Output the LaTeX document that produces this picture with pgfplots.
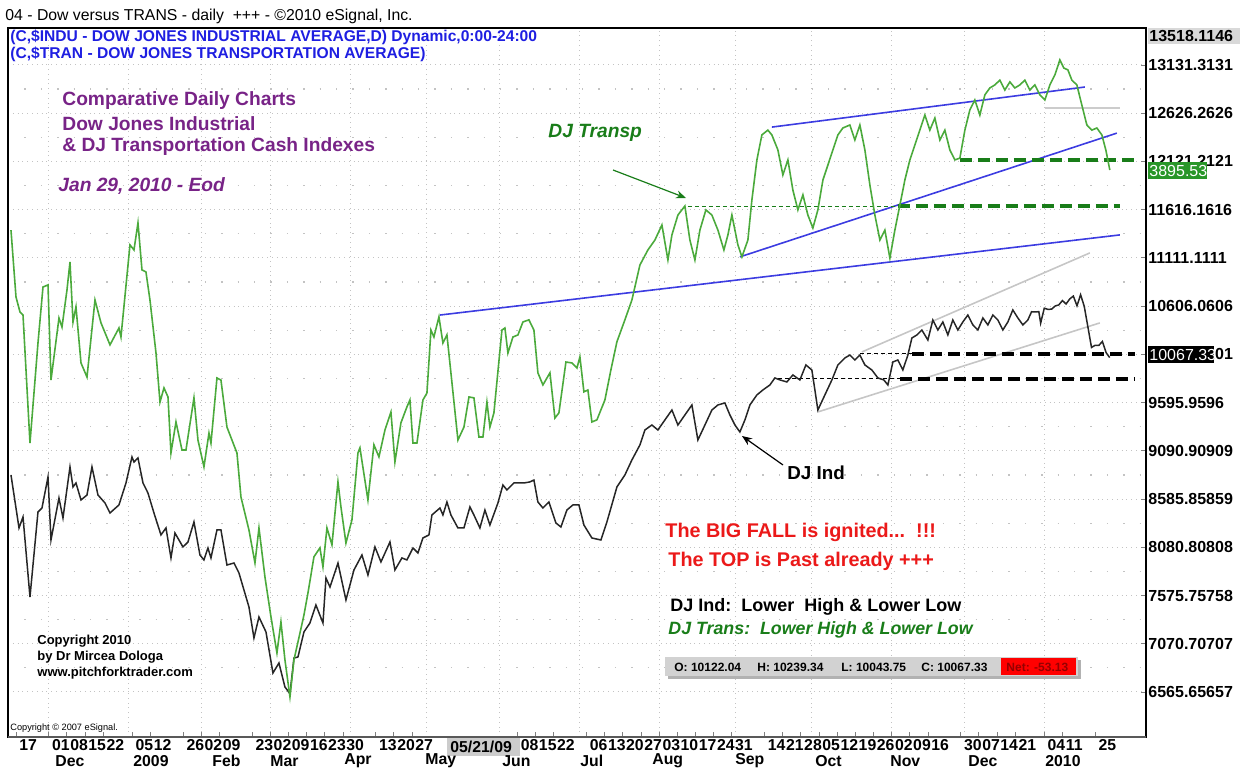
\documentclass[border=0pt]{standalone}
\usepackage{fontspec}
\setmainfont{Liberation Sans}
\usepackage{pgfplots}
\pgfplotsset{compat=1.18}
\usetikzlibrary{arrows.meta}
\definecolor{trgreen}{RGB}{75,170,60}
\definecolor{dkgreen}{RGB}{25,125,25}
\definecolor{boxgreen}{RGB}{40,150,40}
\definecolor{hdrblue}{RGB}{30,30,225}
\definecolor{tblue}{RGB}{60,60,225}
\definecolor{purp}{RGB}{120,35,135}
\definecolor{redtxt}{RGB}{235,25,25}
\definecolor{gridc}{RGB}{195,195,195}
\definecolor{netred}{RGB}{150,0,0}
\newcommand\fs[1]{\fontsize{#1}{#1}\selectfont}

\begin{document}
\begin{tikzpicture}
\path[use as bounding box] (0,0) rectangle (620pt,383.5pt);
% ---------------- primary axis: DJ Industrial ----------------
\begin{axis}[
  at={(4pt,15pt)}, anchor=south west,
  width=569pt, height=354.5pt, scale only axis,
  xmin=-2.2, xmax=311, ymin=6094, ymax=13518.11,
  scaled y ticks=false, scaled x ticks=false,
  axis line style={black, line width=0.6pt},
  ytick={6565.65657,7070.70707,7575.75758,8080.80808,8585.85859,9090.90909,9595.9596,10101.0101,10606.0606,11111.1111,11616.1616,12121.2121,12626.2626,13131.3131},
  yticklabels={6565.65657,7070.70707,7575.75758,8080.80808,8585.85859,9090.90909,9595.9596,10101.0101,10606.0606,11111.1111,11616.1616,12121.2121,12626.2626,13131.3131},
  ytick pos=right, yticklabel pos=right,
  yticklabel style={anchor=west, inner sep=0pt, xshift=1pt, font=\fs{8}\bfseries},
  xtick={0,9,14,19,24,32,37,46,51,56,65,70,75,80,85,90,99,104,109,138,143,148,157,162,167,172,177,182,187,192,197,206,211,216,221,226,231,236,241,246,251,260,265,270,275,283,288,297},
  xticklabels={17,01,08,15,22,05,12,26,02,09,23,02,09,16,23,30,13,20,27,08,15,22,06,13,20,27,03,10,17,24,31,14,21,28,05,12,19,26,02,09,16,30,07,14,21,04,11,25},
  xtick pos=bottom,
  xticklabel style={anchor=north west, inner sep=0pt, yshift=-0.9pt, xshift=1.5pt, font=\fs{7.9}\bfseries},
  tick align=inside, major tick length=2.5pt,
  tick style={gray, line width=0.4pt},
  ymajorgrids=true,
  major grid style={gridc, dotted, line width=0.5pt},
  minor y tick num=1, yminorgrids=true,
  minor grid style={gridc, dash pattern=on 0.7pt off 7.5pt, line width=0.6pt},
  minor tick length=0pt,
  extra x ticks={9,31,51,70,92,113,133,155,177,198,219,241,261,283},
  extra x tick labels={},
  extra x tick style={grid=major, major tick length=0pt},
  clip=true,
]
% grey channel lines around DJ Ind
\addplot[gray!45, line width=0.8pt] coordinates {(232.80,10126) (295.54,11163)};
\addplot[gray!45, line width=0.8pt] coordinates {(220.69,9498) (298.29,10430)};
\addplot[gray!40, line width=0.8pt] coordinates {(283.16,12681) (303.80,12681)};
% black dashed support lines
\addplot[black, line width=0.5pt, dash pattern=on 2pt off 1.5pt] coordinates {(232.25,10105) (246.56,10105)};
\addplot[black, line width=1.6pt, dash pattern=on 6pt off 3pt] coordinates {(246.56,10105) (307.92,10105)};
\addplot[black, line width=0.5pt, dash pattern=on 2pt off 1.5pt] coordinates {(209.69,9843) (243.26,9843)};
\addplot[black, line width=1.6pt, dash pattern=on 6pt off 3pt] coordinates {(243.26,9843) (307.92,9843)};
% DJ Industrial daily close
\addplot[black!85, line width=0.75pt] coordinates {
(-1.38,8838)(0.83,8283)(1.93,8398)(3.85,7560)(6.05,8450)(7.15,8492)(8.81,8817)(9.63,8157)(11.83,8597)(12.93,8387)(14.86,8922)(15.69,8712)(16.51,8754)(17.89,8576)(19.54,8628)(20.91,8922)(22.56,8628)(24.49,8545)(25.87,8440)(28.34,8524)(30.27,8754)(31.92,9026)(32.47,8974)(33.57,9016)(34.95,8754)(36.32,8649)(37.97,8440)(39.90,8210)(41.28,8283)(42.65,7969)(43.75,8230)(45.95,8084)(47.33,8136)(48.98,8346)(50.63,8000)(51.73,7948)(52.83,8073)(53.66,7969)(55.31,8262)(56.41,8262)(58.06,7895)(59.99,7916)(61.36,7812)(64.12,7455)(65.49,7131)(66.87,7351)(68.80,7194)(70.72,6764)(72.37,6869)(74.02,6618)(75.40,6547)(76.50,6921)(77.60,6932)(79.25,7194)(80.90,7288)(82.55,7476)(84.48,7288)(85.31,7759)(86.41,7665)(88.61,7916)(90.81,7529)(93.01,7843)(95.21,8000)(96.86,7791)(98.79,8084)(100.44,7927)(102.92,8136)(104.29,7843)(106.22,7969)(107.59,7948)(109.25,8073)(110.62,8021)(112.00,8178)(113.65,8210)(114.47,8419)(116.68,8492)(117.50,8419)(118.60,8555)(119.70,8419)(121.63,8283)(123.28,8283)(124.93,8503)(126.03,8419)(127.68,8283)(129.06,8471)(130.43,8314)(132.64,8545)(134.01,8733)(135.11,8681)(137.04,8754)(139.79,8754)(141.44,8765)(142.54,8785)(143.64,8555)(145.02,8492)(146.67,8555)(148.60,8335)(149.97,8293)(151.62,8471)(153.27,8524)(154.93,8524)(156.30,8314)(158.50,8178)(160.98,8157)(162.63,8346)(165.38,8712)(167.58,8838)(169.51,8995)(171.71,9152)(173.09,9309)(175.01,9361)(176.66,9309)(178.59,9414)(180.52,9518)(182.17,9361)(184.09,9466)(186.02,9571)(187.67,9204)(189.60,9361)(191.52,9518)(193.18,9571)(195.10,9592)(196.48,9466)(197.86,9361)(199.23,9288)(200.61,9414)(201.98,9571)(203.91,9676)(205.56,9728)(207.48,9780)(208.86,9854)(210.24,9833)(212.16,9812)(213.81,9885)(215.74,9833)(217.39,9990)(219.04,9937)(219.87,9728)(220.69,9518)(222.62,9676)(224.55,9833)(226.20,9990)(228.12,10063)(229.50,10094)(230.87,10042)(232.25,10094)(233.63,9990)(235.55,9937)(237.20,9854)(238.85,9833)(239.96,9780)(241.33,10021)(242.71,10042)(244.08,9937)(245.46,10094)(246.56,10272)(247.94,10304)(249.31,10356)(250.96,10251)(252.34,10461)(253.72,10356)(255.09,10440)(256.47,10304)(257.84,10461)(259.22,10356)(260.59,10440)(261.97,10513)(263.35,10409)(264.72,10356)(266.10,10482)(267.47,10409)(268.85,10513)(270.23,10461)(271.60,10356)(272.98,10440)(274.35,10566)(275.73,10482)(277.11,10409)(278.48,10461)(279.5,10547)(280.5,10545)(281.5,10548)(282,10428)(283,10584)(284,10572)(285,10574)(286,10607)(287,10619)(288,10664)(289,10628)(290,10681)(291,10711)(292,10610)(293,10725)(294,10604)(295,10389)(296,10173)(297,10196)(298,10194)(299,10236)(300,10120)(301,10067.33)
};
\end{axis}
% ---------------- secondary axis: DJ Transportation ----------------
\begin{axis}[
  at={(4pt,15pt)}, anchor=south west,
  width=569pt, height=354.5pt, scale only axis,
  xmin=-2.2, xmax=311, ymin=2013, ymax=4367,
  hide axis, clip=true,
]
\addplot[tblue, line width=0.8pt] coordinates {(116.68,3414) (303.80,3680)};
\addplot[tblue, line width=0.8pt] coordinates {(199.23,3607) (302.97,4018)};
\addplot[tblue, line width=0.8pt] coordinates {(208.03,4038) (294.17,4171)};
\addplot[dkgreen, line width=0.5pt, dash pattern=on 2pt off 1.5pt] coordinates {(184.92,3776) (242.71,3776)};
\addplot[dkgreen, line width=1.6pt, dash pattern=on 6pt off 3pt] coordinates {(242.71,3776) (303.80,3776)};
\addplot[dkgreen, line width=1.6pt, dash pattern=on 6pt off 3pt] coordinates {(259.77,3929) (307.92,3929)};
\addplot[trgreen, line width=0.8pt] coordinates {
(-1.38,3696)(0,3474)(1.10,3424)(1.93,3414)(3.85,2989)(6.05,3321)(7.43,3507)(8.81,3514)(9.63,3198)(11.83,3404)(12.66,3374)(14.03,3497)(14.86,3590)(15.69,3391)(16.51,3441)(17.89,3255)(19.54,3208)(21.74,3464)(23.39,3388)(25.87,3315)(28.34,3371)(28.89,3341)(31.37,3647)(32.47,3630)(33.57,3720)(34.67,3564)(35.77,3557)(36.87,3464)(38.53,3288)(39.63,3125)(40.73,3172)(41.83,3142)(42.65,2956)(44.03,3059)(45.68,2966)(46.78,2966)(48.98,3139)(50.08,2999)(51.73,2910)(53.11,3022)(53.66,2989)(55.31,3205)(56.41,3198)(58.06,3042)(60.81,2956)(61.91,2810)(64.12,2700)(65.77,2591)(66.87,2707)(68.52,2544)(70.17,2412)(71.82,2292)(72.92,2395)(74.02,2269)(75.40,2146)(76.50,2269)(78.15,2358)(79.25,2418)(80.35,2491)(82.00,2611)(83.65,2641)(84.48,2578)(85.58,2707)(86.96,2651)(88.61,2860)(89.43,2777)(90.81,2657)(92.46,2734)(94.11,2956)(94.66,2973)(96.86,2800)(98.51,2983)(99.89,2943)(101.54,3032)(103.19,3092)(104.29,2926)(105.94,3056)(107.59,3109)(108.42,3132)(109.25,2989)(110.35,2989)(112.00,3132)(113.10,3155)(114.20,3364)(115.02,3341)(116.40,3408)(117.50,3321)(118.60,3348)(119.70,3222)(121.63,2999)(123.28,3042)(124.66,3142)(126.03,3139)(127.41,3009)(128.51,3009)(129.61,3125)(130.43,3042)(131.53,3089)(133.74,3364)(134.56,3371)(135.39,3288)(136.76,3341)(138.14,3348)(139.52,3391)(141.17,3398)(142.54,3364)(143.64,3222)(145.02,3182)(146.95,3222)(148.32,3072)(149.42,3089)(151.35,3258)(153.00,3255)(154.38,3238)(155.20,3275)(156.30,3159)(157.40,3165)(158.50,3059)(159.88,3066)(162.08,3132)(163.73,3232)(165.38,3325)(167.58,3398)(169.51,3464)(171.71,3580)(173.91,3630)(175.84,3663)(177.77,3713)(179.42,3597)(180.52,3680)(182.17,3746)(184.09,3776)(185.47,3663)(186.85,3597)(188.22,3696)(189.87,3763)(191.52,3746)(193.18,3696)(194.83,3630)(195.93,3680)(197.03,3746)(198.68,3647)(199.78,3607)(201.43,3663)(202.53,3796)(203.91,3929)(205.28,4012)(206.93,4028)(208.03,4012)(209.69,3962)(211.06,3879)(212.44,3929)(213.81,3829)(215.19,3763)(216.57,3813)(217.94,3746)(219.32,3703)(220.69,3763)(222.07,3862)(223.45,3912)(224.82,3962)(226.20,4012)(227.57,4035)(229.50,4045)(230.87,3995)(232.25,4045)(233.63,3962)(235.00,3846)(236.38,3746)(237.76,3663)(239.13,3696)(240.51,3603)(241.88,3696)(243.26,3779)(244.63,3862)(246.01,3929)(247.39,3979)(248.76,4028)(250.14,4078)(251.51,4028)(252.89,4068)(254.27,3995)(255.64,4028)(257.02,3962)(258.39,3929)(259.77,3935)(261.15,4028)(262.52,4095)(263.90,4128)(265.27,4078)(266.65,4145)(268.03,4168)(269.40,4178)(270.78,4194)(272.15,4161)(273.53,4188)(274.90,4168)(276.28,4178)(277.66,4194)(279.03,4161)(280.41,4178)(281.79,4145)(283.16,4128)(284.54,4178)(285.91,4211)(287.29,4261)(288.39,4234)(289.49,4228)(290.59,4194)(291.97,4178)(293.34,4111)(294.72,4045)(296.10,4028)(297.47,4035)(298.85,4012)(299.94,3962)(301.04,3895.53)
};
\end{axis}
% ---------------- overlays in pixel coordinates ----------------
\begin{scope}[x=0.5pt, y=-0.5pt, shift={(0pt,383.5pt)}]
\draw[gray!70!black, line width=1.3pt] (8,737) -- (1146,737);
% header
\node[anchor=west, inner sep=0pt, font=\fs{7.9}] at (5,16) {04 - Dow versus TRANS - daily\ \ +++ - ©2010 eSignal, Inc.};
\node[anchor=west, inner sep=0pt, font=\fs{7.8}\bfseries, text=hdrblue] at (10,37) {(C,\$INDU - DOW JONES INDUSTRIAL AVERAGE,D) Dynamic,0:00-24:00};
\node[anchor=west, inner sep=0pt, font=\fs{7.8}\bfseries, text=hdrblue] at (10,54) {(C,\$TRAN - DOW JONES TRANSPORTATION AVERAGE)};
% purple titles
\node[anchor=west, inner sep=0pt, font=\fs{9.6}\bfseries, text=purp] at (62,101) {Comparative Daily Charts};
\node[anchor=west, inner sep=0pt, font=\fs{9.6}\bfseries, text=purp] at (62,124) {Dow Jones Industrial};
\node[anchor=west, inner sep=0pt, font=\fs{9.6}\bfseries, text=purp] at (62,147) {\& DJ Transportation Cash Indexes};
\node[anchor=west, inner sep=0pt, font=\fs{9.6}\bfseries\itshape, text=purp] at (58,186) {Jan 29, 2010 - Eod};
% series labels and arrows
\node[anchor=west, inner sep=0pt, font=\fs{9.6}\bfseries\itshape, text=dkgreen] at (548,133) {DJ Transp};
\draw[dkgreen, line width=0.6pt, -{Stealth[length=5pt,width=4pt]}] (613,170) -- (686,198);
\node[anchor=west, inner sep=0pt, font=\fs{9.4}\bfseries] at (787,473) {DJ Ind};
\draw[black, line width=0.6pt, -{Stealth[length=5pt,width=4pt]}] (783,465) -- (742,436);
% red comments
\node[anchor=west, inner sep=0pt, font=\fs{9.9}\bfseries, text=redtxt] at (665,532) {The BIG FALL is ignited...\ \ !!!};
\node[anchor=west, inner sep=0pt, font=\fs{9.9}\bfseries, text=redtxt] at (668,561) {The TOP is Past already +++};
\node[anchor=west, inner sep=0pt, font=\fs{9}\bfseries] at (670,607) {DJ Ind:\ \ Lower\ \ High \& Lower Low};
\node[anchor=west, inner sep=0pt, font=\fs{8.9}\bfseries\itshape, text=dkgreen] at (668,630) {DJ Trans:\ \ Lower High \& Lower Low};
% OHLC box
\fill[gray!60] (668,660) rectangle (1081,679);
\fill[gray!35] (665,657) rectangle (1078,676);
\fill[red] (1001,658) rectangle (1076,675);
\node[anchor=west, inner sep=0pt, font=\fs{6}\bfseries] at (674,667) {O: 10122.04};
\node[anchor=west, inner sep=0pt, font=\fs{6}\bfseries] at (757,667) {H: 10239.34};
\node[anchor=west, inner sep=0pt, font=\fs{6}\bfseries] at (841,667) {L: 10043.75};
\node[anchor=west, inner sep=0pt, font=\fs{6}\bfseries] at (921,667) {C: 10067.33};
\node[anchor=west, inner sep=0pt, font=\fs{6}\bfseries, text=netred] at (1006,667) {Net: -53.13};
% copyright
\node[anchor=west, inner sep=0pt, font=\fs{6.5}\bfseries] at (37,641) {Copyright 2010};
\node[anchor=west, inner sep=0pt, font=\fs{6.5}\bfseries] at (37,657) {by Dr Mircea Dologa};
\node[anchor=west, inner sep=0pt, font=\fs{6.5}\bfseries] at (37,673) {www.pitchforktrader.com};
\node[anchor=west, inner sep=0pt, font=\fs{4.6}] at (10,728) {Copyright © 2007 eSignal.};
% right value boxes
\fill[gray!30] (1148,28) rectangle (1240,44);
\node[anchor=west, inner sep=0pt, font=\fs{8}\bfseries] at (1149,36) {13518.1146};
\fill[boxgreen] (1148,162) rectangle (1207,179);
\node[anchor=west, inner sep=0pt, font=\fs{8}, text=white] at (1149,170.5) {3895.53};
\fill[black] (1148,346) rectangle (1214,363);
\node[anchor=west, inner sep=0pt, font=\fs{8}, text=white] at (1149,354.5) {10067.33};
% cursor date
\fill[gray!40] (447,738) rectangle (520,756);
\node[anchor=west, inner sep=0pt, font=\fs{7.9}\bfseries] at (450,747) {05/21/09};
% month row
\foreach \xx/\mm in {55/Dec,133/2009,212/Feb,270/Mar,344/Apr,425/May,502/Jun,580/Jul,652/Aug,735/Sep,815/Oct,890/Nov,968/Dec,1045/2010}
  \node[anchor=west, inner sep=0pt, font=\fs{7.9}\bfseries] at (\xx,761) {\mm};
\end{scope}
\end{tikzpicture}
\end{document}
